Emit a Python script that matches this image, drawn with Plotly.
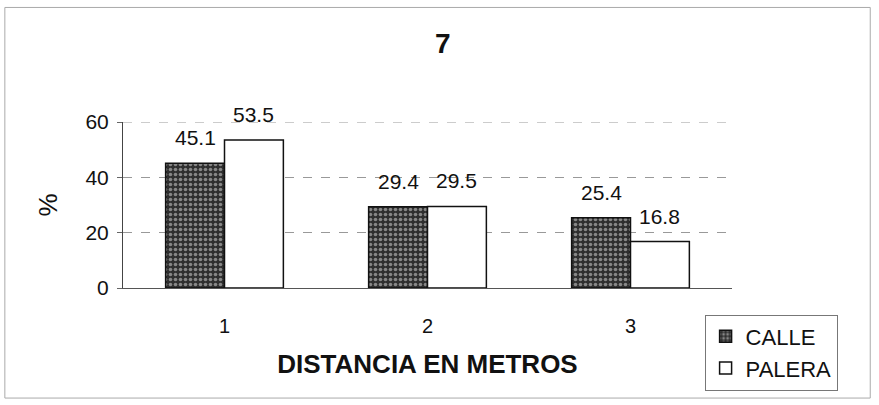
import plotly.graph_objects as go

categories = ["1", "2", "3"]
calle = [45.1, 29.4, 25.4]
palera = [53.5, 29.5, 16.8]
y_ticks = [0, 20, 40, 60]

font = "Liberation Sans, Arial, sans-serif"
bargap = 0.42

fig = go.Figure()
fig.add_trace(go.Bar(
    x=categories, y=calle, name="CALLE",
    marker=dict(color="#2e2e2e", line=dict(color="#111", width=1.5),
                pattern=dict(shape=".", fgcolor="#e0e0e0", size=5, solidity=0.4,
                             fillmode="overlay")),
))
fig.add_trace(go.Bar(
    x=categories, y=palera, name="PALERA",
    marker=dict(color="white", line=dict(color="#111", width=1.5)),
))

# value labels above each bar, shifted to the centre of its bar in the group
plot_w = 879 - 123 - 147
bar_px = plot_w / len(categories) * (1 - bargap) / 2
for i, series in enumerate([calle, palera]):
    for k, v in enumerate(series):
        fig.add_annotation(
            x=k, y=v, xref="x", yref="y", text=f"{v:.1f}", showarrow=False,
            xshift=(i - 0.5) * bar_px, yshift=12, yanchor="bottom",
            font=dict(size=21, color="#111"),
        )

fig.update_layout(
    width=879, height=405,
    margin=dict(l=123, r=147, t=122, b=117),
    paper_bgcolor="white", plot_bgcolor="white",
    font=dict(family=font, color="#111"),
    barmode="group", bargap=bargap, bargroupgap=0,
    title=dict(text="<b>7</b>", x=0.525, xref="paper", y=0.893, yanchor="middle",
               font=dict(size=28, color="#111")),
    showlegend=True,
    legend=dict(x=0.955, y=-0.16, xanchor="left", yanchor="top",
                bordercolor="#777", borderwidth=1, bgcolor="white",
                font=dict(size=22, color="#111"), tracegroupgap=6,
                itemwidth=30),
)
fig.update_xaxes(
    type="category", range=[-0.5, len(categories) - 0.5],
    showline=True, linecolor="#555", linewidth=1,
    ticks="", tickfont=dict(size=20), showgrid=False, ticklabelstandoff=20,
    title=dict(text="<b>DISTANCIA EN METROS</b>", font=dict(size=26), standoff=18),
)
fig.update_yaxes(
    range=[0, 60], tickvals=y_ticks, showline=True, linecolor="#444", linewidth=1,
    ticks="outside", ticklen=5, tickcolor="#666", tickfont=dict(size=21),
    ticklabelstandoff=4,
    showgrid=True, gridcolor="#999", griddash="dash", gridwidth=1,
    zeroline=False,
    title=dict(text="%", font=dict(size=26), standoff=20),
)
# top gridline at the end of the value range
fig.add_shape(type="line", xref="paper", yref="y", x0=0, x1=1, y0=60, y1=60,
              line=dict(color="#999", width=1, dash="dash"), layer="below")
fig.add_shape(type="rect", xref="paper", yref="paper",
              x0=-0.194, x1=1.227, y0=-0.663, y1=1.69,
              line=dict(color="#aaa", width=1), layer="below")

fig.write_html("out.html")
